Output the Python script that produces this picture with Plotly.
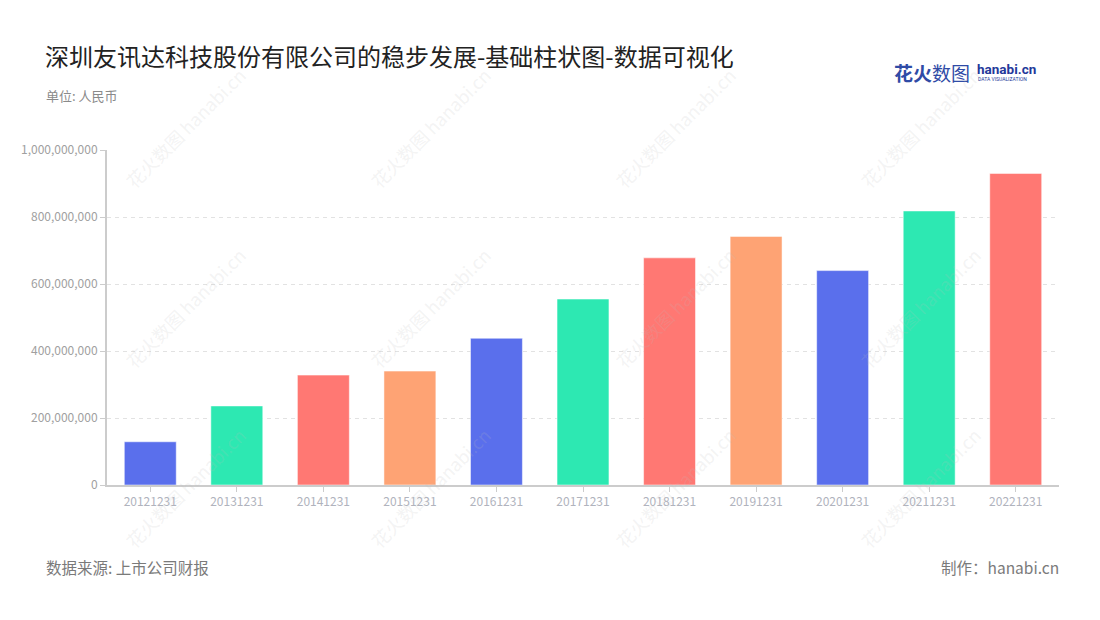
import plotly.graph_objects as go

categories = ["20121231", "20131231", "20141231", "20151231", "20161231", "20171231",
              "20181231", "20191231", "20201231", "20211231", "20221231"]
values = [129e6, 236e6, 328e6, 340e6, 438e6, 555e6, 678e6, 742e6, 640e6, 818e6, 930e6]
palette = ["#5A6FEC", "#2DE8B2", "#FF7873", "#FEA374"]
y_ticks = [0, 200e6, 400e6, 600e6, 800e6, 1000e6]
y_tick_labels = ["0", "200,000,000", "400,000,000", "600,000,000", "800,000,000", "1,000,000,000"]

title = "深圳友讯达科技股份有限公司的稳步发展-基础柱状图-数据可视化"
subtitle = "单位: 人民币"
source = "数据来源: 上市公司财报"
maker = "制作：hanabi.cn"

colors = [palette[i % len(palette)] for i in range(len(categories))]
FONT = "Noto Sans CJK SC, Noto Sans, sans-serif"

fig = go.Figure()
fig.add_trace(go.Bar(
    x=categories, y=values,
    marker=dict(color=colors, line=dict(color="rgba(255,255,255,0.5)", width=1)),
    width=0.6,
))

fig.update_layout(
    width=1100, height=620,
    margin=dict(l=107, r=41, t=150, b=135),
    paper_bgcolor="white", plot_bgcolor="white",
    font=dict(family=FONT, color="#aaaaaa", size=12),
    showlegend=False,
    bargap=0.4,
    xaxis=dict(
        type="category", showline=True, linecolor="#cccccc", linewidth=2,
        ticks="outside", ticklen=5, tickcolor="#cccccc", tickwidth=1,
        tickfont=dict(size=12, color="#b0b3bd"), showgrid=False,
        range=[-0.5, len(categories) - 0.5],
    ),
    yaxis=dict(
        range=[0, 1000e6], tickvals=y_ticks, ticktext=y_tick_labels,
        showline=True, linecolor="#cccccc", linewidth=2,
        ticks="outside", ticklen=5, tickcolor="#cccccc",
        tickfont=dict(size=12, color="#a0a0a0"),
        showgrid=True, gridcolor="#e2e2e2", griddash="4px,4px", gridwidth=1,
        zeroline=False,
    ),
)

def px_x(px):
    return (px - 107) / (1100 - 107 - 41)

def px_y(py):
    return (485 - py) / (485 - 150)

ann = []
ann.append(dict(text=title, x=px_x(43), y=px_y(55), xanchor="left", yanchor="middle",
                font=dict(size=24, color="#222222", family=FONT)))
ann.append(dict(text=subtitle, x=px_x(44), y=px_y(96), xanchor="left", yanchor="middle",
                font=dict(size=13, color="#8a8a8a", family=FONT)))
ann.append(dict(text=source, x=px_x(44), y=px_y(567), xanchor="left", yanchor="middle",
                font=dict(size=15.5, color="#7a7a7a", family=FONT)))
ann.append(dict(text=maker, x=px_x(1061), y=px_y(567), xanchor="right", yanchor="middle",
                font=dict(size=15.5, color="#7a7a7a", family=FONT)))
# logo
ann.append(dict(text="<b>花火</b>数图", x=px_x(892), y=px_y(73), xanchor="left", yanchor="middle",
                font=dict(size=19, color="#2F4BA6", family=FONT)))
ann.append(dict(text="<b>hanabi.cn</b>", x=px_x(975), y=px_y(69), xanchor="left", yanchor="middle",
                font=dict(size=13.5, color="#23389A", family="Roboto, sans-serif")))
ann.append(dict(text="DATA VISUALIZATION", x=px_x(976), y=px_y(79), xanchor="left", yanchor="middle",
                font=dict(size=5, color="#23389A", family="Roboto, sans-serif")))
# watermarks
for cx in [185, 430, 675, 920]:
    for cy in [128, 308, 488]:
        ann.append(dict(text="花火数图 hanabi.cn", x=px_x(cx), y=px_y(cy), xanchor="center",
                        yanchor="middle", textangle=-45,
                        font=dict(size=18, color="rgba(190,190,190,0.18)", family=FONT)))

for a in ann:
    a.update(xref="paper", yref="paper", showarrow=False)
fig.update_layout(annotations=ann)

fig.write_html("out.html")
